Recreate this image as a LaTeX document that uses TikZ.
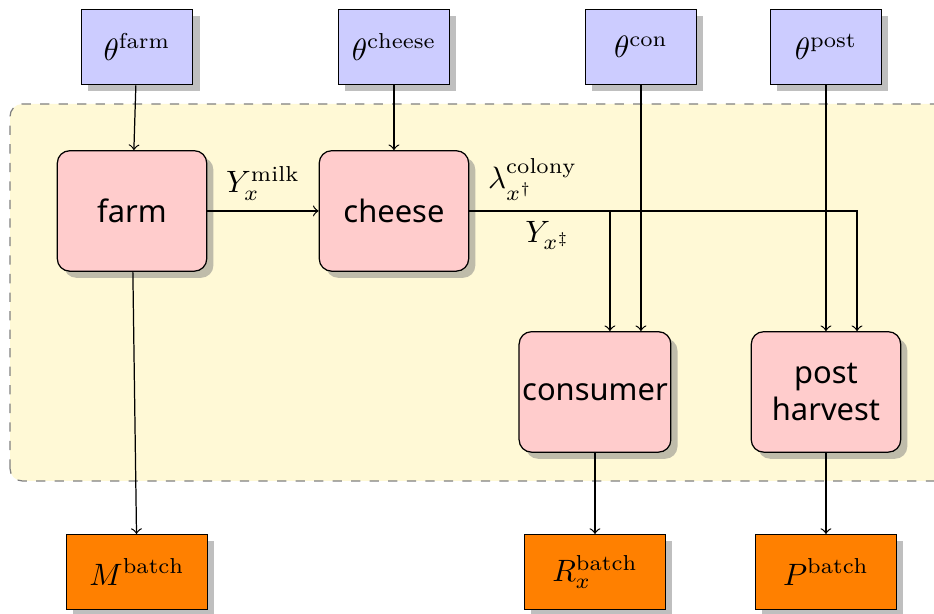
\documentclass[tikz,border=0pt]{standalone}
\usepackage{fontspec}
\newfontfamily\boxfont{Noto Sans}
\usetikzlibrary{shadows}
\definecolor{zone}{RGB}{255,249,214}

\begin{document}
\begin{tikzpicture}[
  param/.style={draw, fill=blue!20, minimum width=1.27cm, minimum height=0.86cm, drop shadow},
  stage/.style={draw, fill=red!20, rounded corners=4pt, minimum width=1.7cm, minimum height=1.37cm, inner xsep=1pt, align=center, font=\boxfont, drop shadow},
  outcome/.style={draw, fill=orange, minimum width=1.6cm, minimum height=0.85cm, drop shadow}]

\useasboundingbox (0,0) rectangle (10.626,6.985);

\path [fill=zone, draw=gray, dashed, rounded corners=4pt] (0.114,1.513) rectangle (10.95,5.802);

\node [param] (tfarm) at (1.559,6.451) {$\theta^{\mathrm{farm}}$};
\node [param] (tcheese) at (4.482,6.451) {$\theta^{\mathrm{cheese}}$};
\node [param] (tcon) at (7.292,6.451) {$\theta^{\mathrm{con}}$};
\node [param] (tpost) at (9.397,6.451) {$\theta^{\mathrm{post}}$};

\node [stage] (farm) at (1.502,4.585) {farm};
\node [stage] (cheese) at (4.482,4.585) {cheese};
\node [stage] (consumer) at (6.769,2.526) {consumer};
\node [stage] (post) at (9.397,2.526) {post\\harvest};

\node [outcome] (mbatch) at (1.559,0.478) {$M^{\mathrm{batch}}$};
\node [outcome] (rbatch) at (6.769,0.478) {$R_x^{\mathrm{batch}}$};
\node [outcome] (pbatch) at (9.397,0.478) {$P^{\mathrm{batch}}$};

\coordinate (conin) at ([xshift=0.17cm]consumer.north);
\coordinate (postin) at ([xshift=0.353cm]post.north);

\draw [->] (tfarm) -- (farm);
\draw [->] (tcheese) -- (cheese);
\draw [->] (tcon) -- (tcon |- consumer.north);
\draw [->] (tpost) -- (post);

\draw [->] (farm) -- node[above] {$Y_x^{\mathrm{milk}}$} (cheese);
\draw [->] (cheese) -| node[pos=0.225, above] {$\lambda_{x^\dagger}^{\mathrm{colony}}$} node[pos=0.28, below] {$Y_{x^\ddagger}$} (conin);
\draw [->] (cheese) -| (postin);

\draw [->] (farm) -- (mbatch);
\draw [->] (consumer) -- (rbatch);
\draw [->] (post) -- (pbatch);

\end{tikzpicture}
\end{document}
